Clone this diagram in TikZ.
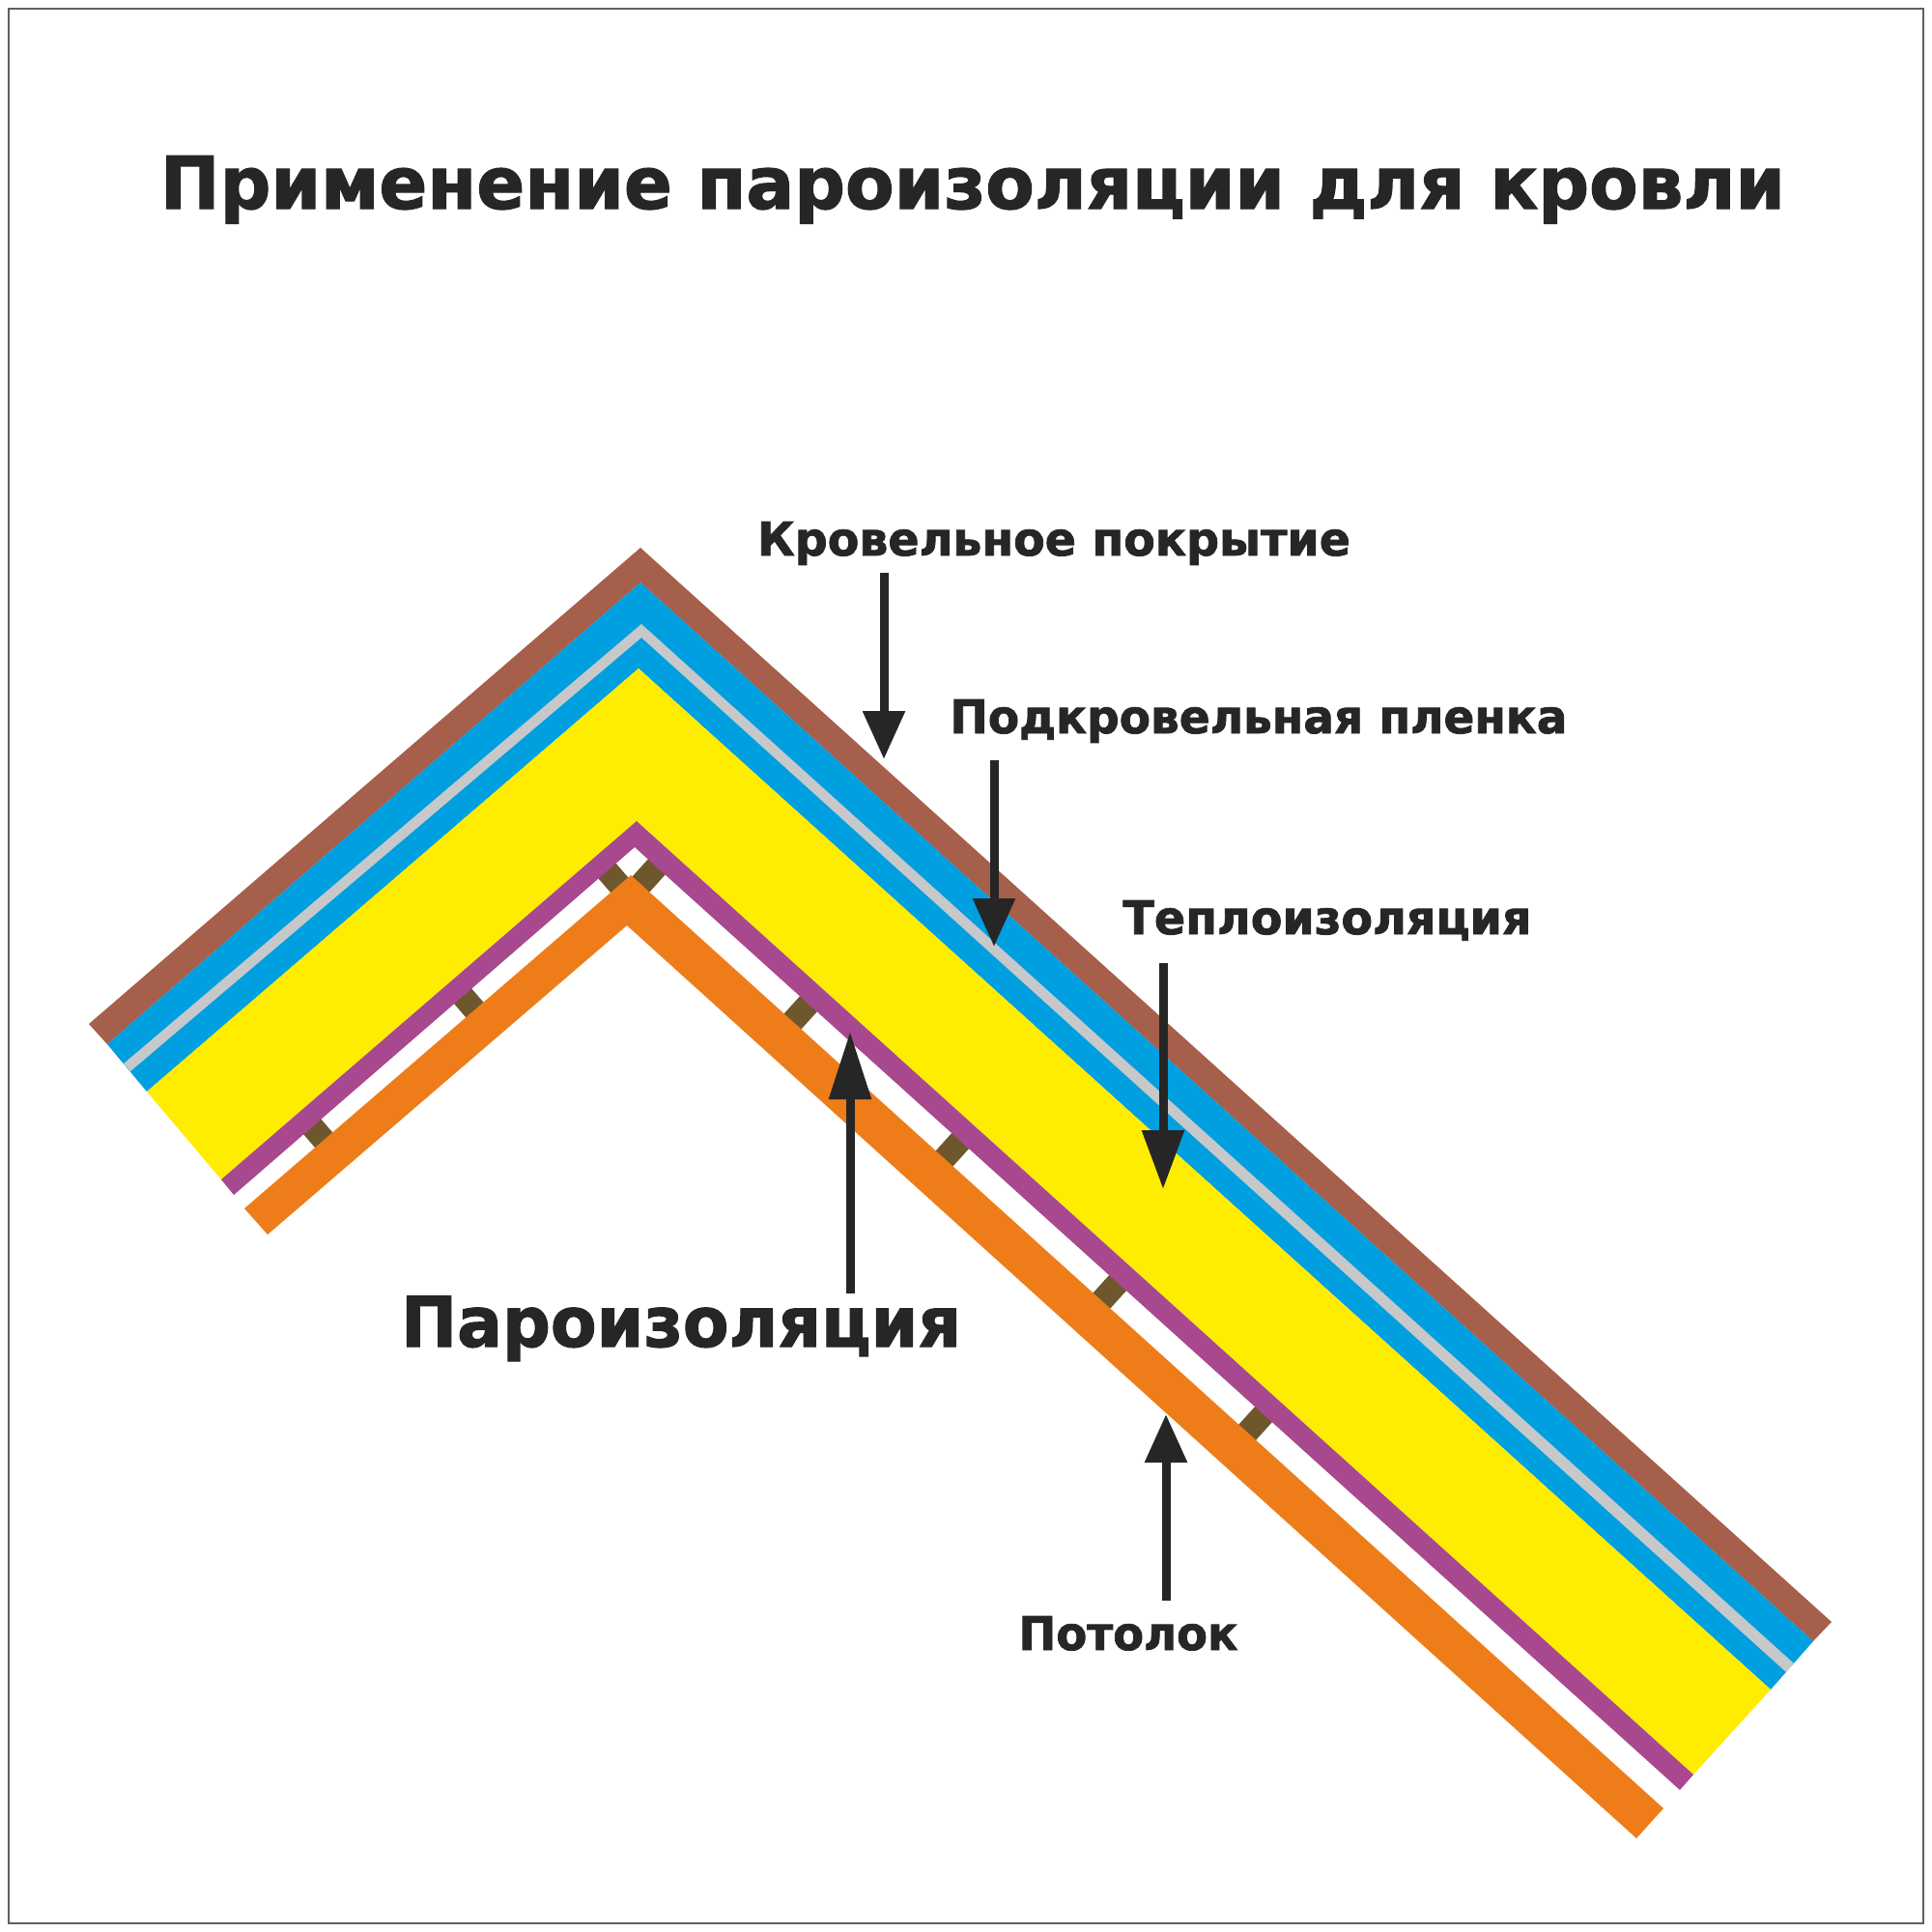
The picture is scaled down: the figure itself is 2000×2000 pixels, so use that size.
\documentclass[tikz,border=0pt]{standalone}
\usepackage{fontspec}
\usepackage{graphicx}
\setmainfont[BoldFeatures={FakeBold=1.6}]{DejaVu Sans}
\usetikzlibrary{arrows.meta}
\definecolor{ink}{HTML}{262626}
\definecolor{roof}{HTML}{A65F4A}
\definecolor{air}{HTML}{009FE0}
\definecolor{film}{HTML}{C6C8C9}
\definecolor{wool}{HTML}{FFED00}
\definecolor{vapor}{HTML}{A8488E}
\definecolor{ceil}{HTML}{EE7D19}
\definecolor{batten}{HTML}{6F572D}
\tikzset{
  x=1pt,y=-1pt,
  pointer/.style={ink,line width=9pt,-{Triangle[length=#1,width=42pt]}},
  pointer/.default=50pt,
  lbl/.style={inner sep=0pt,anchor=base,text=ink,font=\bfseries},
  spacerR/.style={shift={#1},rotate=-42.1},
  spacerL/.style={shift={#1},rotate=40.8},
}
\newcommand{\batten}[2]{\fill[batten,#1={#2}] (-12,-16) rectangle (12,16);}
\newcommand{\fitted}[3]{\resizebox{#1pt}{\height}{\fontsize{#2}{#2}\selectfont #3}}
\begin{document}
\begin{tikzpicture}
\useasboundingbox (0,0) rectangle (2000,2000);
\fill[white] (0,0) rectangle (2000,2000);
\draw[gray!75!black,line width=1.5pt] (9,9) rectangle (1991,1991);

% battens lie under the membrane and the ceiling
\batten{spacerR}{(672,906)}
\batten{spacerR}{(829,1048)}
\batten{spacerR}{(986,1190)}
\batten{spacerR}{(1149,1337)}
\batten{spacerR}{(1300,1473)}
\batten{spacerL}{(635,909)}
\batten{spacerL}{(485,1038)}
\batten{spacerL}{(329,1173)}

% layers
\fill[roof] (92,1060) -- (663,567) -- (1896,1679) -- (1877,1699) -- (663,603) -- (111,1081) -- cycle;
\fill[air] (111,1081) -- (663,603) -- (1877,1699) -- (1833,1749) -- (661,692) -- (152,1130) -- cycle;
\fill[film] (128,1101) -- (664,646) -- (1857,1722) -- (1849,1731) -- (664,660) -- (135,1109) -- cycle;
\fill[wool] (152,1130) -- (661,692) -- (1833,1749) -- (1753,1837) -- (659,850) -- (229,1221) -- cycle;
\fill[vapor] (229,1221) -- (659,850) -- (1753,1837) -- (1739,1853) -- (657,877) -- (242,1237) -- cycle;
\fill[ceil] (253,1251) -- (653,906) -- (1722,1872) -- (1694,1903) -- (649,958) -- (277,1278) -- cycle;

% labels
\node[lbl] (title) at (1007,216) {\fitted{1682}{75pt}{Применение пароизоляции для кровли}};
\node[lbl] (krov) at (1091,575) {\fitted{614}{48pt}{Кровельное покрытие}};
\node[lbl] (podk) at (1303,759) {\fitted{639}{48pt}{Подкровельная пленка}};
\node[lbl] (tepl) at (1374,967) {\fitted{423}{48pt}{Теплоизоляция}};
\node[lbl] (paro) at (705,1394) {\fitted{580}{72pt}{Пароизоляция}};
\node[lbl] (pot) at (1168,1708) {\fitted{227}{48pt}{Потолок}};

% pointers
\coordinate (k0) at (915,593); \coordinate (k1) at (915,786);
\coordinate (p0) at (1029,787); \coordinate (p1) at (1029,980);
\coordinate (t0) at (1204,997); \coordinate (t1) at (1204,1231);
\coordinate (v0) at (880,1339); \coordinate (v1) at (880,1068);
\coordinate (c0) at (1207,1657); \coordinate (c1) at (1207,1464);
\draw[pointer] (k0) -- (k1);
\draw[pointer] (p0) -- (p1);
\draw[pointer=61pt] (t0) -- (t1);
\draw[pointer=70pt] (v0) -- (v1);
\draw[pointer] (c0) -- (c1);
\end{tikzpicture}
\end{document}
